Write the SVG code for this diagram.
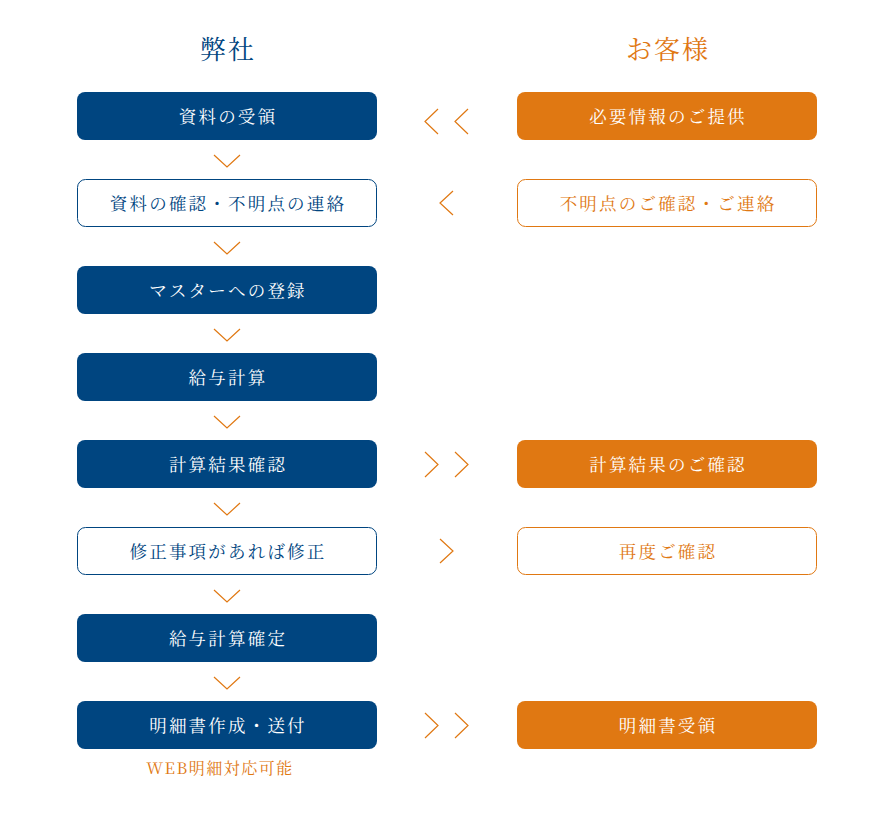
<svg xmlns="http://www.w3.org/2000/svg" width="890" height="820" viewBox="0 0 890 820">
<style>
.t{font-family:"Noto Serif CJK JP","Liberation Serif","Noto Sans CJK JP",serif;font-size:17.5px;text-anchor:middle;dominant-baseline:central;letter-spacing:2.2px}
.h{font-family:"Noto Serif CJK JP","Liberation Serif","Noto Sans CJK JP",serif;font-size:26px;text-anchor:middle;dominant-baseline:central;letter-spacing:2px}
.nf{fill:#004580}
.of{fill:#e07812}
.nb{fill:#fff;stroke:#004580;stroke-width:1}
.ob{fill:#fff;stroke:#e07812;stroke-width:1}
.w{fill:#fff}
.ch{fill:none;stroke:#e07812;stroke-width:1.2}
</style>
<text class="h nf" x="228" y="47">弊社</text>
<text class="h of" x="668" y="47">お客様</text>

<g id="n1"><rect class="nf" x="77" y="92" width="300" height="48" rx="8"/><text class="t w" x="228" y="115">資料の受領</text></g>
<g id="n2"><rect class="nb" x="77.5" y="179.5" width="299" height="47" rx="8"/><text class="t nf" x="228" y="202">資料の確認・不明点の連絡</text></g>
<g id="n3"><rect class="nf" x="77" y="266" width="300" height="48" rx="8"/><text class="t w" x="228" y="289">マスターへの登録</text></g>
<g id="n4"><rect class="nf" x="77" y="353" width="300" height="48" rx="8"/><text class="t w" x="228" y="376">給与計算</text></g>
<g id="n5"><rect class="nf" x="77" y="440" width="300" height="48" rx="8"/><text class="t w" x="228" y="463">計算結果確認</text></g>
<g id="n6"><rect class="nb" x="77.5" y="527.5" width="299" height="47" rx="8"/><text class="t nf" x="228" y="550">修正事項があれば修正</text></g>
<g id="n7"><rect class="nf" x="77" y="614" width="300" height="48" rx="8"/><text class="t w" x="228" y="637">給与計算確定</text></g>
<g id="n8"><rect class="nf" x="77" y="701" width="300" height="48" rx="8"/><text class="t w" x="228" y="724">明細書作成・送付</text>
<text class="t of" x="220" y="767" style="font-size:16px;letter-spacing:1.5px">WEB明細対応可能</text></g>

<g id="r1"><rect class="of" x="517" y="92" width="300" height="48" rx="8"/><text class="t w" x="668" y="115">必要情報のご提供</text></g>
<g id="r2"><rect class="ob" x="517.5" y="179.5" width="299" height="47" rx="8"/><text class="t of" x="668" y="202">不明点のご確認・ご連絡</text></g>
<g id="r5"><rect class="of" x="517" y="440" width="300" height="48" rx="8"/><text class="t w" x="668" y="463">計算結果のご確認</text></g>
<g id="r6"><rect class="ob" x="517.5" y="527.5" width="299" height="47" rx="8"/><text class="t of" x="668" y="550">再度ご確認</text></g>
<g id="r8"><rect class="of" x="517" y="701" width="300" height="48" rx="8"/><text class="t w" x="668" y="724">明細書受領</text></g>

<g id="connectors">
<path class="ch" d="M214 155L227 167L240 155"/>
<path class="ch" d="M214 242L227 254L240 242"/>
<path class="ch" d="M214 329L227 341L240 329"/>
<path class="ch" d="M214 416L227 428L240 416"/>
<path class="ch" d="M214 503L227 515L240 503"/>
<path class="ch" d="M214 590L227 602L240 590"/>
<path class="ch" d="M214 677L227 689L240 677"/>
<path class="ch" d="M438 109L425 121.5L438 134M468 109L455 121.5L468 134"/>
<path class="ch" d="M453 191L440 203L453 215"/>
<path class="ch" d="M425 452L438 464.5L425 477M455 452L468 464.5L455 477"/>
<path class="ch" d="M440 539L453 551L440 563"/>
<path class="ch" d="M425 713L438 725.5L425 738M455 713L468 725.5L455 738"/>
</g>
</svg>
